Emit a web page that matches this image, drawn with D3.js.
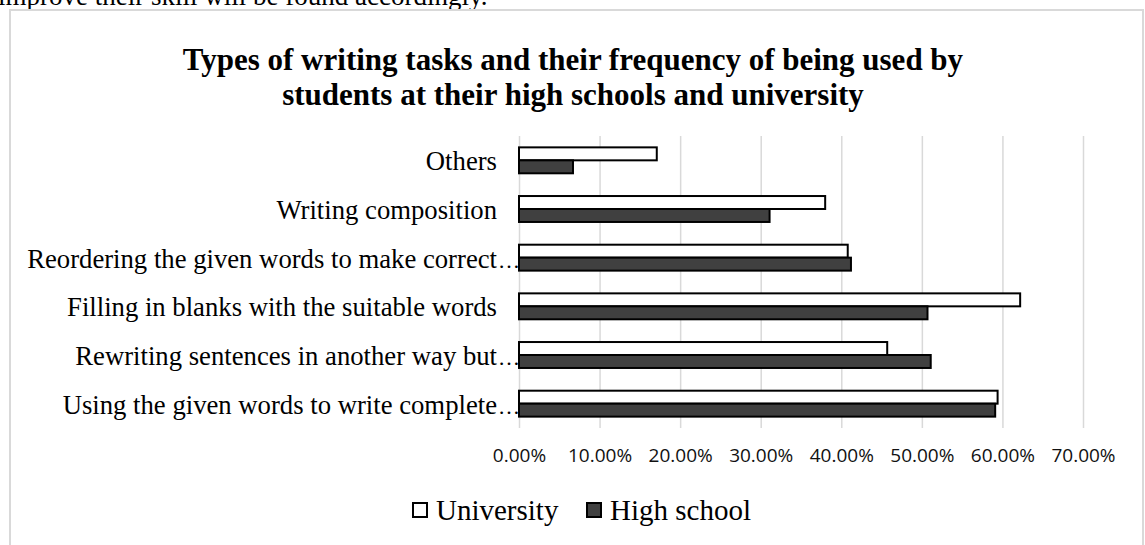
<!DOCTYPE html>
<html>
<head>
<meta charset="utf-8">
<script src="https://cdn.jsdelivr.net/npm/d3@7"></script>
<style>
	body { margin: 0; background: #fff; }
	svg { display: block; }
</style>
</head>
<body>
<div id="graph"></div>
<script>
// Data (share of students, 0-1)
const categories = [
	'Others',
	'Writing composition',
	'Reordering the given words to make correct…',
	'Filling in blanks with the suitable words',
	'Rewriting sentences in another way but…',
	'Using the given words to write complete…'
];
const seriesNames = ['University', 'High school'];
const university = [0.171, 0.380, 0.408, 0.622, 0.457, 0.594];
const highSchool = [0.067, 0.311, 0.412, 0.507, 0.511, 0.591];
const tickValues = [0, 0.1, 0.2, 0.3, 0.4, 0.5, 0.6, 0.7];
const titleLines = [
	'Types of writing tasks and their frequency of being used by',
	'students at their high schools and university'
];

const width = 1145,
	height = 545;
const colors = { University: '#ffffff', 'High school': '#404040' };

const data = categories.map((c, i) => ({
	category: c,
	University: university[i],
	'High school': highSchool[i]
}));

const svg = d3
	.select('#graph')
	.append('svg')
	.attr('width', width)
	.attr('height', height);

// Text of the page above the figure, cut off at the top
svg
	.append('text')
	.attr('x', -2)
	.attr('y', 5)
	.style('font-family', '"Liberation Serif", "Times New Roman", serif')
	.style('font-size', '27px')
	.text('improve their skill will be found accordingly.');

// Chart frame
svg
	.append('rect')
	.attr('x', 10)
	.attr('y', 10)
	.attr('width', 1133)
	.attr('height', 560)
	.attr('fill', '#fff')
	.attr('stroke', '#d9d9d9')
	.attr('stroke-width', 2);

// Title
svg
	.append('g')
	.selectAll('text')
	.data(titleLines)
	.join('text')
	.attr('x', 573)
	.attr('y', (d, i) => 70 + i * 35)
	.attr('text-anchor', 'middle')
	.style('font-family', '"Liberation Serif", "Times New Roman", serif')
	.style('font-weight', 'bold')
	.style('font-size', '31px')
	.text((d) => d);

// Scales
const x = d3.scaleLinear().domain([0, 0.7]).range([519, 1083]);
const y = d3
	.scaleBand()
	.domain(categories)
	.range([136, 428])
	.paddingInner(0.467)
	.paddingOuter(0.2335);
const ySub = d3
	.scaleBand()
	.domain(seriesNames)
	.range([0, y.bandwidth()]);

// X axis with gridlines
const xAxis = svg
	.append('g')
	.attr('transform', `translate(0, 428)`)
	.call(
		d3
			.axisBottom(x)
			.tickValues(tickValues)
			.tickSize(-292)
			.tickFormat(d3.format('.2%'))
	);
xAxis.select('.domain').remove();
xAxis.selectAll('.tick line').attr('stroke', '#d9d9d9').attr('stroke-width', 1.5);
xAxis
	.selectAll('.tick text')
	.attr('y', 21)
	.attr('fill', '#111')
	.style('font-family', '"Open Sans", sans-serif')
	.style('font-size', '19px');

// Y labels (Excel-style truncated ones spill an ellipsis past the edge)
const labels = svg
	.append('g')
	.selectAll('g')
	.data(categories)
	.join('g')
	.attr('transform', (d) => `translate(0, ${y(d) + y.bandwidth() / 2 + 10})`)
	.style('font-family', '"Liberation Serif", "Times New Roman", serif')
	.style('font-size', '26.7px');
labels
	.append('text')
	.attr('x', 497)
	.attr('text-anchor', 'end')
	.text((d) => d.replace('…', ''));
labels
	.filter((d) => d.endsWith('…'))
	.append('text')
	.attr('x', 498)
	.style('font-size', '22px')
	.text('…');

// Bars
svg
	.append('g')
	.selectAll('g')
	.data(data)
	.join('g')
	.attr('transform', (d) => `translate(0, ${y(d.category)})`)
	.selectAll('rect')
	.data((d) => seriesNames.map((k) => ({ key: k, value: d[k] })))
	.join('rect')
	.attr('x', x(0))
	.attr('y', (d) => ySub(d.key))
	.attr('width', (d) => x(d.value) - x(0))
	.attr('height', ySub.bandwidth())
	.attr('fill', (d) => colors[d.key])
	.attr('stroke', '#000')
	.attr('stroke-width', 2);

// Legend
const legend = svg
	.append('g')
	.selectAll('g')
	.data(seriesNames)
	.join('g')
	.attr('transform', (d, i) => `translate(${[413, 587][i]}, 503)`);
legend
	.append('rect')
	.attr('width', 14)
	.attr('height', 14)
	.attr('fill', (d) => colors[d])
	.attr('stroke', '#000')
	.attr('stroke-width', 2);
legend
	.append('text')
	.attr('x', 23)
	.attr('y', 17)
	.style('font-family', '"Liberation Serif", "Times New Roman", serif')
	.style('font-size', '29px')
	.text((d) => d);
</script>
</body>
</html>
